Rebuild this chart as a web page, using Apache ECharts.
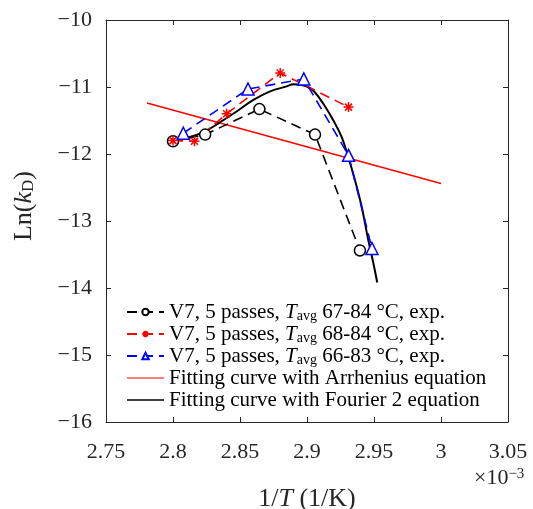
<!DOCTYPE html>
<html>
<head>
<meta charset="utf-8">
<script src="https://cdn.jsdelivr.net/npm/echarts@6/dist/echarts.min.js"></script>
<style>
  html, body { margin: 0; padding: 0; background: #fff; }
  #main { width: 533px; height: 509px; }
</style>
</head>
<body>
<div id="main"></div>
<script>
// 실험 데이터 (x: 1/T ×10^-3, y: Ln(kD))
var circX = [2.800, 2.824, 2.8645, 2.906, 2.9395];
var circY = [-11.81, -11.71, -11.33, -11.71, -13.44];
var starX = [2.800, 2.816, 2.840, 2.880, 2.931];
var starY = [-11.80, -11.81, -11.40, -10.79, -11.30];
var triX = [2.8077, 2.856, 2.8976, 2.931, 2.9485];
var triY = [-11.69, -11.03, -10.88, -12.02, -13.41];

// 피팅 곡선
var arrX = [2.7806, 3.0];
var arrY = [-11.24, -12.44];
var fourX = [2.7993, 2.8104, 2.8228, 2.8352, 2.8477, 2.8600, 2.8725, 2.8849, 2.8899, 2.8949,
             2.9000, 2.9050, 2.9122, 2.9197, 2.9259, 2.9308, 2.9358, 2.9408, 2.9457, 2.9495, 2.9524];
var fourY = [-11.797, -11.757, -11.674, -11.525, -11.362, -11.193, -11.065, -10.991, -10.960, -10.966,
             -10.995, -11.060, -11.250, -11.500, -11.748, -12.045, -12.391, -12.788, -13.282, -13.628, -13.917];

var names = [
  'V7, 5 passes, Tavg 67-84 °C, exp.',
  'V7, 5 passes, Tavg 68-84 °C, exp.',
  'V7, 5 passes, Tavg 66-83 °C, exp.',
  'Fitting curve with Arrhenius equation',
  'Fitting curve with Fourier 2 equation'
];

function pairs(xs, ys) {
  return xs.map(function (x, i) { return [x, ys[i]]; });
}

var font = 'Liberation Serif';
var axisColor = '#262626';
var starPath = 'path://M0,-10L0,10M-10,0L10,0M-7,-7L7,7M-7,7L7,-7';

var chart = echarts.init(document.getElementById('main'));

var option = {
  animation: false,
  grid: { left: 106, top: 20, right: 25, bottom: 87, containLabel: false, outerBoundsMode: 'none' },
  xAxis: [
    {
      type: 'value', min: 2.75, max: 3.05, interval: 0.05,
      axisLine: { lineStyle: { color: axisColor, width: 1 } },
      axisTick: { inside: true, length: 5, lineStyle: { color: axisColor } },
      splitLine: { show: false },
      axisLabel: {
        color: axisColor, fontFamily: font, fontSize: 22, margin: 19,
        formatter: function (v) { return String(parseFloat(v.toFixed(2))); }
      },
      name: '{a|1/}{i|T}{a| (1/K)}',
      nameLocation: 'middle',
      nameGap: 64,
      nameTextStyle: {
        color: axisColor, fontFamily: font, fontSize: 26,
        rich: {
          a: { fontFamily: font, fontSize: 26, color: axisColor },
          i: { fontFamily: font, fontSize: 26, fontStyle: 'italic', color: axisColor }
        }
      }
    },
    {
      type: 'value', position: 'top', min: 2.75, max: 3.05, interval: 0.05,
      axisLine: { show: true, lineStyle: { color: axisColor, width: 1 } },
      axisTick: { inside: true, length: 5, lineStyle: { color: axisColor } },
      axisLabel: { show: false },
      splitLine: { show: false }
    }
  ],
  yAxis: [
    {
      type: 'value', min: -16, max: -10, interval: 1,
      axisLine: { show: true, lineStyle: { color: axisColor, width: 1 } },
      axisTick: { show: true, inside: true, length: 5, lineStyle: { color: axisColor } },
      splitLine: { show: false },
      axisLabel: {
        color: axisColor, fontFamily: font, fontSize: 22, margin: 14,
        formatter: function (v) { return (v < 0 ? '\u2212' : '') + Math.abs(v); }
      }
    },
    {
      type: 'value', position: 'right', min: -16, max: -10, interval: 1,
      axisLine: { show: true, lineStyle: { color: axisColor, width: 1 } },
      axisTick: { show: true, inside: true, length: 5, lineStyle: { color: axisColor } },
      axisLabel: { show: false },
      splitLine: { show: false }
    }
  ],
  legend: {
    orient: 'vertical',
    left: 121,
    top: 296,
    itemWidth: 37,
    itemHeight: 8,
    itemGap: 0,
    data: [
      { name: names[0] },
      { name: names[1] },
      { name: names[2] },
      { name: names[3], itemStyle: { opacity: 0 }, lineStyle: { width: 1 } },
      { name: names[4], itemStyle: { opacity: 0 }, lineStyle: { width: 1.5 } }
    ],
    formatter: function (name) {
      return name.replace('Tavg', '{i|T}{s|avg}');
    },
    textStyle: {
      color: '#000', fontFamily: font, fontSize: 21, lineHeight: 22,
      rich: {
        i: { fontFamily: font, fontSize: 21, fontStyle: 'italic', color: '#000', lineHeight: 22 },
        s: { fontFamily: font, fontSize: 14, color: '#000', verticalAlign: 'bottom', lineHeight: 14, padding: [8, 0, 0, 0] }
      }
    }
  },
  graphic: [
    {
      type: 'text', x: 24, y: 206, rotation: Math.PI / 2,
      style: {
        text: '{a|Ln(}{i|k}{s|D}{a|)}',
        align: 'center', verticalAlign: 'middle',
        rich: {
          a: { fontFamily: font, fontSize: 26, fill: axisColor },
          i: { fontFamily: font, fontSize: 26, fontStyle: 'italic', fill: axisColor },
          s: { fontFamily: font, fontSize: 17, fill: axisColor, verticalAlign: 'bottom', padding: [10, 0, 0, 0] }
        }
      }
    },
    {
      type: 'text', left: 474, top: 467,
      style: {
        text: '{a|\u00d710}{s|\u22123}',
        rich: {
          a: { fontFamily: font, fontSize: 22, fill: axisColor },
          s: { fontFamily: font, fontSize: 15, fill: axisColor, verticalAlign: 'top', padding: [0, 0, 6, 0] }
        }
      }
    }
  ],
  series: [
    {
      name: names[0], type: 'line', data: pairs(circX, circY),
      symbol: 'circle', symbolSize: 11,
      lineStyle: { color: '#000', width: 1.6, type: [10, 6] },
      itemStyle: { color: '#fff', borderColor: '#000', borderWidth: 1.5 },
      z: 3
    },
    {
      name: names[1], type: 'line', data: pairs(starX, starY),
      symbol: starPath, symbolSize: 10,
      lineStyle: { color: '#ff0000', width: 1.6, type: [10, 6] },
      itemStyle: { color: '#ff0000', borderColor: '#ff0000', borderWidth: 1.5 },
      z: 3
    },
    {
      name: names[2], type: 'line', data: pairs(triX, triY),
      symbol: 'triangle', symbolSize: 12,
      lineStyle: { color: '#0000ff', width: 1.6, type: [10, 6] },
      itemStyle: { color: '#fff', borderColor: '#0000ff', borderWidth: 1.5 },
      z: 3
    },
    {
      name: names[3], type: 'line', data: pairs(arrX, arrY),
      showSymbol: false, symbol: 'none',
      lineStyle: { color: '#ff0000', width: 1.5 },
      itemStyle: { color: '#ff0000' },
      z: 2
    },
    {
      name: names[4], type: 'line', data: pairs(fourX, fourY),
      showSymbol: false, symbol: 'none', smooth: 0.4,
      lineStyle: { color: '#000', width: 2 },
      itemStyle: { color: '#000' },
      z: 2
    }
  ]
};

chart.setOption(option);
</script>
</body>
</html>
